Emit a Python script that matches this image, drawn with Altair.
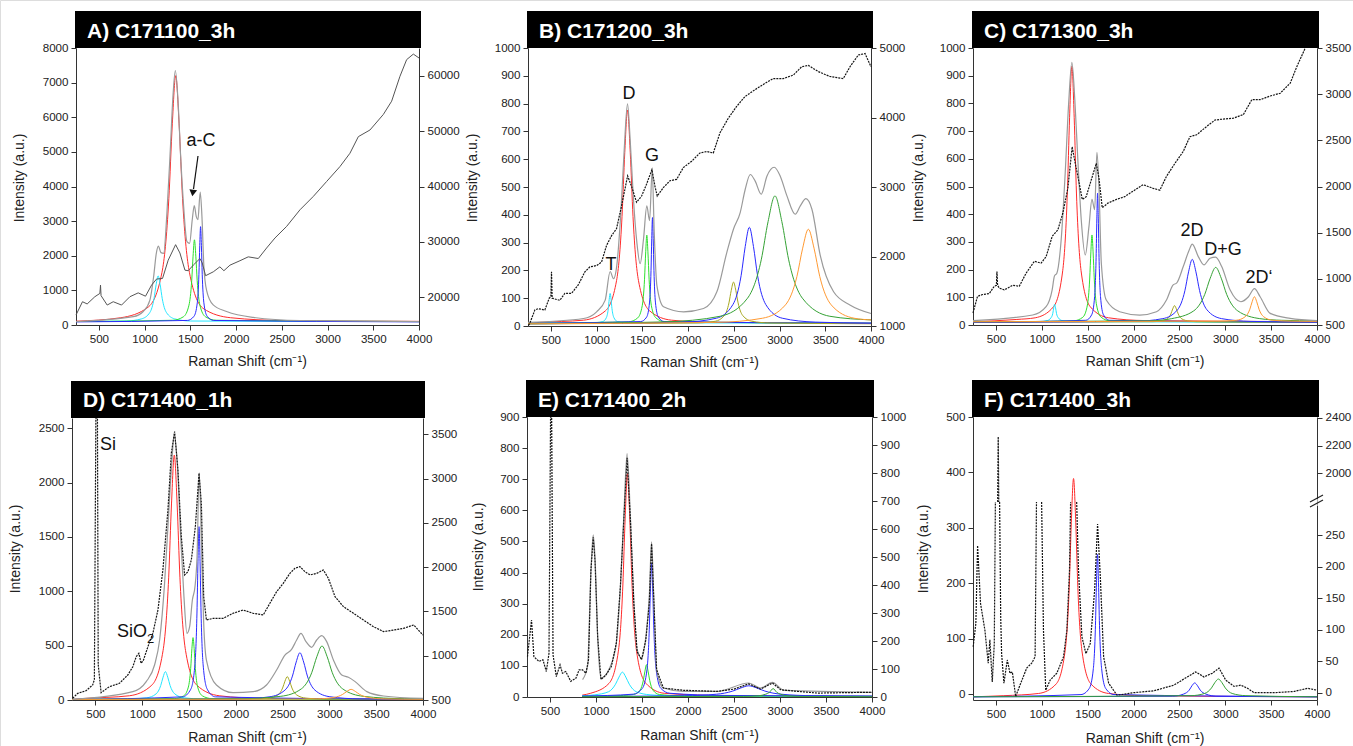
import altair as alt
import pandas as pd

W, H = 1353, 746
FONT = "Liberation Sans"

X_TICKS = [500, 1000, 1500, 2000, 2500, 3000, 3500, 4000]

# ---------------- Panel A: C171100_3h ----------------
A_LTICKS = [0, 1000, 2000, 3000, 4000, 5000, 6000, 7000, 8000]
A_RTICKS = [20000, 30000, 40000, 50000, 60000]
A_RAW = [(250, 16800), (321, 19200), (372, 18800), (456, 20100), (511, 20700), (518, 22200), (524, 20300),
         (591, 18600), (657, 19200), (748, 18600), (839, 20100), (930, 20800), (1010, 20200), (1076, 22200),
         (1131, 23300), (1196, 23400), (1258, 26700), (1339, 29500), (1386, 28000), (1441, 24900),
         (1477, 24800), (1532, 25800), (1605, 27000), (1630, 26200), (1667, 23900), (1751, 24600),
         (1823, 25500), (1867, 24800), (1933, 25800), (2042, 26600), (2133, 27300), (2243, 27000),
         (2334, 28900), (2425, 30700), (2553, 32800), (2699, 35800), (2844, 38200), (2990, 40900),
         (3136, 43600), (3245, 46000), (3337, 49000), (3464, 50200), (3610, 53000), (3701, 55400),
         (3792, 59900), (3865, 62900), (3938, 63900), (4000, 63200)]
A_SUM = [(250, 100), (876, 240), (985, 390), (1058, 720), (1099, 1400), (1128, 2070), (1150, 2280),
         (1179, 2090), (1208, 2070), (1244, 3230), (1281, 5060), (1310, 6600), (1336, 7350), (1365, 6500),
         (1394, 4870), (1427, 3420), (1463, 2410), (1492, 2360), (1521, 3040), (1543, 3450), (1565, 3130),
         (1583, 3040), (1608, 3840), (1627, 3130), (1648, 1690), (1677, 1010), (1750, 580), (1896, 390),
         (2188, 220), (2698, 130), (4000, 100)]
A_RED = [(250, 110), (740, 210), (1040, 518), (1190, 1520), (1265, 3650), (1303, 5812), (1340, 7200),
         (1377, 5812), (1415, 3650), (1490, 1520), (1640, 480), (1940, 210), (2540, 127), (4000, 105)]
A_CYAN = [(250, 100), (800, 115), (968, 178), (1058, 364), (1103, 760), (1126, 1165), (1148, 1420),
          (1170, 1165), (1193, 760), (1238, 364), (1328, 178), (1500, 115), (4000, 100)]
A_GREEN = [(250, 100), (1305, 136), (1425, 239), (1485, 572), (1515, 1280), (1530, 1988), (1545, 2460),
           (1560, 1988), (1575, 1280), (1605, 572), (1665, 239), (1785, 136), (4000, 100)]
A_BLUE = [(250, 90), (1468, 132), (1540, 252), (1576, 640), (1594, 1465), (1603, 2290), (1612, 2840),
          (1621, 2290), (1630, 1465), (1648, 640), (1684, 252), (1756, 132), (4000, 90)]

# ---------------- Panel B: C171200_3h ----------------
B_LTICKS = [0, 100, 200, 300, 400, 500, 600, 700, 800, 900, 1000]
B_RTICKS = [1000, 2000, 3000, 4000, 5000]
B_RAW = [(255, 1010), (270, 1040), (325, 1230), (361, 1250), (434, 1230), (482, 1400), (500, 1420),
         (507, 1780), (514, 1400), (540, 1390), (598, 1370), (653, 1470), (726, 1470), (799, 1590),
         (872, 1780), (927, 1850), (1000, 1870), (1054, 1920), (1109, 2160), (1164, 2300), (1218, 2400),
         (1273, 2730), (1339, 3160), (1382, 3010), (1437, 2780), (1492, 2870), (1546, 3040), (1605, 3250),
         (1638, 3010), (1663, 2870), (1729, 2990), (1802, 3090), (1875, 3110), (1948, 3280), (2039, 3370),
         (2130, 3490), (2203, 3510), (2276, 3490), (2349, 3780), (2440, 3990), (2531, 4160), (2622, 4300),
         (2731, 4400), (2840, 4490), (2932, 4560), (3041, 4560), (3151, 4610), (3242, 4730), (3315, 4750),
         (3424, 4660), (3552, 4590), (3697, 4560), (3770, 4730), (3862, 4900), (3935, 4920), (4000, 4730)]
B_SUM = [(250, 13), (857, 27), (1000, 51), (1094, 93), (1148, 196), (1185, 170), (1221, 218), (1265, 408),
         (1302, 635), (1338, 799), (1367, 670), (1403, 456), (1440, 301), (1476, 224), (1513, 313),
         (1549, 432), (1579, 379), (1608, 563), (1630, 337), (1659, 146), (1732, 69), (1951, 51),
         (2169, 63), (2315, 123), (2424, 265), (2497, 349), (2570, 408), (2625, 492), (2680, 545),
         (2734, 521), (2800, 474), (2862, 539), (2942, 571), (3008, 539), (3081, 468), (3172, 402),
         (3227, 432), (3289, 458), (3354, 420), (3445, 254), (3591, 123), (3774, 75), (4000, 45)]
B_RED = [(250, 10), (378, 13), (858, 21), (1098, 55), (1218, 163), (1278, 394), (1308, 624), (1338, 777),
         (1368, 624), (1398, 394), (1458, 163), (1578, 55), (1818, 21), (2298, 13), (4000, 10)]
B_CYAN = [(250, 10), (988, 12), (1068, 16), (1108, 31), (1128, 63), (1138, 96), (1148, 117), (1158, 96),
          (1168, 63), (1188, 31), (1228, 16), (1308, 12), (4000, 10)]
B_GREEN = [(250, 10), (1349, 15), (1449, 29), (1499, 73), (1524, 168), (1537, 267), (1549, 327),
           (1561, 267), (1574, 168), (1599, 73), (1649, 29), (1749, 15), (4000, 10)]
B_BLUE = [(250, 10), (1483, 16), (1547, 32), (1579, 86), (1595, 200), (1603, 314), (1611, 390),
          (1619, 314), (1627, 200), (1643, 86), (1675, 32), (1739, 16), (4000, 10)]
B_OLIVE = [(250, 8), (2097, 11), (2297, 17), (2397, 38), (2447, 83), (2472, 128), (2497, 158),
           (2522, 128), (2547, 83), (2597, 38), (2697, 17), (2897, 11), (4000, 8)]
B_BLUE2 = [(250, 8), (1950, 14), (2310, 28), (2490, 77), (2580, 181), (2625, 286), (2670, 355),
           (2715, 286), (2760, 181), (2850, 77), (3030, 28), (3390, 14), (4000, 10)]
B_GREEN2 = [(250, 8), (1750, 15), (2350, 35), (2650, 100), (2800, 238), (2875, 376), (2950, 468),
            (3025, 376), (3100, 238), (3250, 100), (3550, 35), (4000, 22)]
B_ORANGE = [(250, 8), (2315, 13), (2815, 28), (3065, 76), (3190, 178), (3253, 280), (3315, 348),
            (3377, 280), (3440, 178), (3565, 76), (3815, 28), (4000, 22)]

# ---------------- Panel C: C171300_3h ----------------
C_LTICKS = [0, 100, 200, 300, 400, 500, 600, 700, 800, 900, 1000]
C_RTICKS = [500, 1000, 1500, 2000, 2500, 3000, 3500]
C_RAW = [(250, 630), (299, 810), (354, 830), (427, 840), (482, 920), (505, 930), (511, 1080), (518, 930),
         (536, 900), (591, 880), (682, 930), (755, 920), (828, 1060), (919, 1190), (992, 1170),
         (1047, 1240), (1113, 1460), (1175, 1530), (1229, 1710), (1284, 1980), (1331, 2430), (1357, 2290),
         (1393, 2110), (1441, 1860), (1484, 1890), (1539, 2070), (1594, 2250), (1623, 2090), (1659, 1770),
         (1721, 1820), (1813, 1860), (1904, 1890), (1995, 1950), (2104, 2020), (2214, 1980), (2287, 1960),
         (2359, 2110), (2451, 2250), (2542, 2380), (2615, 2540), (2688, 2560), (2797, 2650), (2888, 2720),
         (2979, 2730), (3089, 2740), (3198, 2780), (3289, 2940), (3380, 2940), (3490, 2980), (3599, 3010),
         (3708, 3120), (3781, 3300), (3872, 3500)]
C_SUM = [(250, 16), (901, 36), (1047, 66), (1113, 127), (1138, 177), (1164, 187), (1211, 307), (1255, 548),
         (1295, 813), (1328, 948), (1360, 813), (1393, 596), (1430, 380), (1474, 253), (1514, 355),
         (1547, 454), (1576, 416), (1601, 623), (1623, 500), (1649, 223), (1703, 90), (1849, 48),
         (2068, 36), (2250, 48), (2359, 90), (2432, 145), (2469, 151), (2542, 211), (2607, 271),
         (2640, 292), (2706, 247), (2768, 217), (2834, 241), (2895, 245), (2961, 211), (3052, 127),
         (3169, 84), (3253, 102), (3318, 131), (3380, 102), (3490, 42), (3708, 24), (4000, 16)]
C_RED = [(250, 12), (728, 20), (928, 26), (1128, 66), (1228, 196), (1278, 473), (1303, 750), (1328, 934),
         (1353, 750), (1378, 473), (1428, 196), (1528, 66), (1728, 26), (2128, 16), (4000, 12)]
C_CYAN = [(250, 10), (980, 12), (1060, 16), (1100, 26), (1120, 42), (1130, 62), (1140, 75), (1150, 62),
          (1160, 42), (1180, 26), (1220, 16), (1300, 12), (4000, 10)]
C_GREEN = [(250, 10), (1347, 15), (1447, 28), (1497, 72), (1522, 166), (1535, 264), (1547, 325),
           (1559, 264), (1572, 166), (1597, 72), (1647, 28), (1747, 15), (4000, 10)]
C_BLUE = [(250, 10), (1480, 17), (1544, 37), (1576, 103), (1592, 243), (1600, 383), (1608, 476),
          (1616, 383), (1624, 243), (1640, 103), (1672, 37), (1736, 17), (4000, 10)]
C_OLIVE = [(250, 10), (2207, 12), (2287, 14), (2367, 22), (2407, 40), (2427, 58), (2447, 70),
           (2467, 58), (2487, 40), (2527, 22), (2607, 14), (2687, 12), (4000, 10)]
C_BLUE2 = [(250, 10), (2000, 13), (2320, 23), (2480, 55), (2560, 124), (2600, 192), (2640, 237),
           (2680, 192), (2720, 124), (2800, 55), (2960, 23), (3280, 13), (4000, 10)]
C_GREEN2 = [(250, 12), (2176, 15), (2416, 23), (2656, 51), (2776, 110), (2836, 169), (2896, 208),
            (2956, 169), (3016, 110), (3136, 51), (3376, 23), (3616, 17), (4000, 15)]
C_ORANGE = [(250, 12), (2918, 14), (3118, 17), (3218, 30), (3268, 57), (3293, 84), (3318, 102),
            (3343, 84), (3368, 57), (3418, 30), (3518, 17), (3718, 14), (4000, 13)]

# ---------------- Panel D: C171400_1h ----------------
D_LTICKS = [0, 500, 1000, 1500, 2000, 2500]
D_RTICKS = [500, 1000, 1500, 2000, 2500, 3000, 3500]
D_RAW = [(257, 520), (311, 575), (400, 605), (471, 670), (489, 730), (505, 3684), (522, 3684), (530, 900),
         (561, 583), (650, 651), (757, 688), (846, 782), (900, 876), (936, 989), (964, 1027), (989, 914),
         (1014, 952), (1061, 1102), (1114, 1253), (1168, 1516), (1221, 1968), (1275, 2645), (1311, 3285),
         (1346, 3530), (1382, 3097), (1418, 2344), (1453, 1912), (1489, 1949), (1525, 2081), (1568, 2457),
         (1607, 3060), (1632, 2721), (1657, 1667), (1686, 1403), (1757, 1422), (1864, 1422), (1971, 1479),
         (2078, 1516), (2186, 1479), (2293, 1460), (2364, 1592), (2436, 1723), (2507, 1817), (2578, 1930),
         (2632, 1987), (2685, 2006), (2739, 1949), (2793, 1912), (2864, 1930), (2935, 1968), (2989, 1874),
         (3060, 1667), (3150, 1554), (3257, 1479), (3364, 1403), (3471, 1328), (3578, 1272), (3685, 1290),
         (3792, 1309), (3900, 1347), (4000, 1234)]
D_SUM = [(257, 6), (900, 77), (1043, 169), (1132, 322), (1186, 552), (1239, 1073), (1275, 1595),
         (1311, 2116), (1343, 2438), (1375, 2178), (1411, 1503), (1446, 951), (1478, 613), (1507, 675),
         (1536, 920), (1564, 1043), (1586, 1319), (1609, 2090), (1636, 1319), (1657, 705), (1686, 368),
         (1793, 138), (1971, 67), (2186, 77), (2328, 138), (2436, 276), (2525, 414), (2596, 466),
         (2650, 552), (2696, 613), (2750, 537), (2810, 485), (2864, 552), (2918, 592), (2971, 537),
         (3043, 368), (3132, 230), (3203, 209), (3275, 169), (3400, 77), (3578, 37), (4000, 15)]
D_RED = [(250, 5), (383, 14), (863, 39), (1103, 137), (1223, 455), (1283, 1130), (1313, 1804), (1343, 2254),
         (1373, 1804), (1403, 1130), (1463, 455), (1583, 137), (1823, 39), (2303, 14), (4000, 6)]
D_CYAN = [(250, 5), (848, 9), (1048, 20), (1148, 56), (1198, 133), (1223, 210), (1248, 261), (1273, 210),
          (1298, 133), (1348, 56), (1448, 20), (1648, 9), (4000, 5)]
D_GREEN = [(250, 5), (1343, 13), (1443, 38), (1493, 119), (1518, 290), (1531, 472), (1543, 574),
           (1555, 472), (1568, 290), (1593, 119), (1643, 38), (1743, 13), (4000, 5)]
D_BLUE = [(250, 5), (1431, 29), (1519, 99), (1563, 323), (1585, 800), (1596, 1277), (1607, 1595),
          (1618, 1277), (1629, 800), (1651, 323), (1695, 99), (1783, 29), (4000, 5)]
D_OLIVE = [(250, 5), (2150, 8), (2350, 17), (2450, 47), (2500, 110), (2525, 173), (2550, 215),
           (2575, 173), (2600, 110), (2650, 47), (2750, 17), (2950, 8), (4000, 5)]
D_BLUE2 = [(250, 5), (2045, 10), (2365, 30), (2525, 91), (2605, 220), (2645, 349), (2685, 435),
           (2725, 349), (2765, 220), (2845, 91), (3005, 30), (3325, 10), (4000, 6)]
D_GREEN2 = [(250, 5), (2041, 11), (2481, 34), (2701, 103), (2811, 251), (2866, 399), (2921, 497),
            (2976, 399), (3031, 251), (3141, 103), (3361, 34), (3801, 11), (4000, 9)]
D_ORANGE = [(250, 5), (2700, 8), (2872, 10), (3052, 24), (3142, 52), (3187, 79), (3232, 98),
            (3277, 79), (3322, 52), (3412, 24), (3592, 10), (4000, 6)]

# ---------------- Panel E: C171400_2h ----------------
E_LTICKS = [0, 100, 200, 300, 400, 500, 600, 700, 800, 900]
E_RTICKS = [0, 100, 200, 300, 400, 500, 600, 700, 800, 900, 1000]
E_RAW = [(255, 144), (299, 275), (325, 144), (380, 127), (423, 133), (460, 91), (489, 156), (506, 1000),
         (518, 1000), (533, 150), (569, 73), (609, 115), (635, 85), (671, 91), (726, 56), (781, 67),
         (817, 97), (854, 97), (890, 85), (919, 133), (945, 452), (970, 570), (989, 488), (1018, 215),
         (1054, 62), (1109, 79), (1167, 109), (1221, 192), (1265, 393), (1302, 630), (1338, 854),
         (1374, 630), (1411, 334), (1447, 162), (1495, 133), (1542, 204), (1579, 334), (1604, 547),
         (1630, 334), (1659, 97), (1732, 32), (1950, 24), (2315, 20), (2497, 28), (2661, 47), (2789, 28),
         (2917, 50), (3008, 26), (3190, 20), (3409, 14), (4000, 17)]
E_SUM = [(854, 56), (908, 98), (945, 408), (970, 521), (992, 430), (1018, 195), (1054, 61), (1148, 93),
         (1221, 173), (1265, 355), (1302, 579), (1338, 782), (1374, 579), (1411, 312), (1447, 152),
         (1495, 125), (1542, 195), (1579, 323), (1604, 499), (1630, 301), (1659, 88), (1732, 29),
         (1950, 18), (2315, 18), (2661, 45), (2789, 29), (2917, 47), (3044, 21), (4000, 15)]
E_RED = [(850, 6), (942, 12), (1142, 44), (1242, 145), (1292, 360), (1317, 575), (1342, 718), (1367, 575),
         (1392, 360), (1442, 145), (1542, 44), (1742, 12), (2300, 5), (4000, 2)]
E_CYAN = [(850, 4), (987, 7), (1137, 17), (1212, 41), (1250, 64), (1287, 80), (1324, 64), (1362, 41),
          (1437, 17), (1587, 7), (1900, 3), (4000, 2)]
E_GREEN = [(850, 2), (1300, 5), (1409, 8), (1479, 22), (1514, 53), (1532, 83), (1549, 104), (1566, 83),
           (1584, 53), (1619, 22), (1689, 8), (1900, 4), (4000, 2)]
E_BLUE = [(850, 3), (1404, 9), (1504, 28), (1554, 88), (1579, 216), (1592, 350), (1604, 430), (1616, 350),
          (1629, 216), (1654, 88), (1704, 28), (1804, 12), (2400, 5), (4000, 3)]
E_BLUE2 = [(850, 2), (1961, 4), (2311, 9), (2486, 19), (2574, 29), (2661, 36), (2748, 29), (2836, 19),
           (3011, 9), (3361, 4), (4000, 2)]
E_GREEN2 = [(850, 1), (2605, 2), (2765, 4), (2845, 9), (2885, 15), (2925, 27), (2965, 15), (3005, 9),
            (3085, 4), (3245, 2), (4000, 1)]

# ---------------- Panel F: C171400_3h (broken right axis) ----------------
F_LTICKS = [0, 100, 200, 300, 400, 500]
F_RTICKS = [0, 50, 100, 150, 200, 250, 2000, 2200, 2400]
F_RAW = [
    [(252, 73), (281, 110), (300, 234), (332, 142), (380, 99), (416, 47), (434, 84), (460, 17), (482, 78),
     (494, 303)],
    [(519, 1793), (525, 2264), (531, 1793)],
    [(540, 303), (552, 120), (562, 62), (587, 15), (624, 52), (653, 31), (679, 33), (715, -6), (762, 12),
     (835, 39), (890, 47), (927, 57), (942, 303)],
    [(998, 303), (1018, 100), (1043, 4), (1091, 20), (1164, 31), (1237, 57), (1273, 99), (1302, 195),
     (1314, 303)],
    [(1380, 303), (1400, 195), (1437, 89), (1481, 62), (1528, 78), (1576, 163), (1608, 268), (1638, 184),
     (1674, 57), (1729, 15), (1820, -4), (2002, 0), (2221, 3), (2440, 12), (2585, 25), (2677, 33),
     (2768, 25), (2859, 31), (2932, 39), (3005, 20), (3096, 10), (3169, 12), (3242, 7), (3315, 0),
     (3533, 0), (3752, 2), (3898, 7), (4000, 4)],
]
F_RED = [(250, -5), (586, -3), (966, 1), (1156, 18), (1251, 74), (1299, 192), (1322, 310), (1346, 389),
         (1370, 310), (1393, 192), (1441, 74), (1536, 18), (1726, 1), (2106, -3), (4000, -5)]
F_BLUE = [(250, -5), (1427, -1), (1517, 10), (1562, 46), (1585, 124), (1596, 201), (1607, 252), (1618, 201),
          (1629, 124), (1652, 46), (1697, 10), (1787, -1), (4000, -5)]
F_BLUE2 = [(250, -5), (2427, -4), (2547, 0), (2607, 7), (2637, 15), (2667, 20), (2697, 15), (2727, 7),
           (2787, 0), (2907, -4), (4000, -5)]
F_GREEN2 = [(250, -5), (2625, -3), (2775, 1), (2850, 11), (2888, 21), (2925, 27), (2962, 21), (3000, 11),
            (3075, 1), (3225, -3), (4000, -5)]

# ---------------- colours ----------------
RED, CYAN, LIME, BLUE = "#ff2b2b", "#22e6ff", "#2ee02e", "#2a2aff"
OLIVE, DGREEN, ORANGE = "#a8a820", "#35a235", "#ff9a33"
GRAY, RAWC = "#9a9a9a", "#151515"

PANELS = [
    dict(title="A) C171100_3h", x0=76, x1=419, yb=325, yt=48, ldom=[0, 8000], lt=A_LTICKS,
         rdom=[15000, 65000], rt=A_RTICKS, raw=[A_RAW], rawsolid=True, sum=A_SUM,
         comps=[("red", RED, A_RED), ("cyan", CYAN, A_CYAN), ("green", LIME, A_GREEN), ("blue", BLUE, A_BLUE)],
         yt_pos=(20, 178), xt_y=362, ty=38),
    dict(title="B) C171200_3h", x0=528, x1=871, yb=326, yt=48, ldom=[0, 1000], lt=B_LTICKS,
         rdom=[1000, 5000], rt=B_RTICKS, raw=[B_RAW], rawsolid=False, sum=B_SUM,
         comps=[("red", RED, B_RED), ("cyan", CYAN, B_CYAN), ("green", LIME, B_GREEN), ("blue", BLUE, B_BLUE),
                ("olive", OLIVE, B_OLIVE), ("blue2", BLUE, B_BLUE2), ("green2", DGREEN, B_GREEN2),
                ("orange", ORANGE, B_ORANGE)],
         yt_pos=(473, 178), xt_y=363, ty=38),
    dict(title="C) C171300_3h", x0=973, x1=1317, yb=325, yt=48, ldom=[0, 1000], lt=C_LTICKS,
         rdom=[500, 3500], rt=C_RTICKS, raw=[C_RAW], rawsolid=False, sum=C_SUM,
         comps=[("red", RED, C_RED), ("cyan", CYAN, C_CYAN), ("green", LIME, C_GREEN), ("blue", BLUE, C_BLUE),
                ("olive", OLIVE, C_OLIVE), ("blue2", BLUE, C_BLUE2), ("green2", DGREEN, C_GREEN2),
                ("orange", ORANGE, C_ORANGE)],
         yt_pos=(919, 178), xt_y=362, ty=38),
    dict(title="D) C171400_1h", x0=72, x1=423, yb=700, yt=418, ldom=[0, 2595], lt=D_LTICKS,
         rdom=[500, 3684], rt=D_RTICKS, raw=[D_RAW], rawsolid=False, sum=D_SUM,
         comps=[("red", RED, D_RED), ("cyan", CYAN, D_CYAN), ("green", LIME, D_GREEN), ("blue", BLUE, D_BLUE),
                ("olive", OLIVE, D_OLIVE), ("blue2", BLUE, D_BLUE2), ("green2", DGREEN, D_GREEN2),
                ("orange", ORANGE, D_ORANGE)],
         yt_pos=(16, 549), xt_y=738, ty=406.5),
    dict(title="E) C171400_2h", x0=527, x1=872, yb=697, yt=417, ldom=[0, 900], lt=E_LTICKS,
         rdom=[0, 1000], rt=E_RTICKS, raw=[E_RAW], rawsolid=False, sum=E_SUM,
         comps=[("red", RED, E_RED), ("cyan", CYAN, E_CYAN), ("green", LIME, E_GREEN), ("blue", BLUE, E_BLUE),
                ("blue2", BLUE, E_BLUE2), ("green2", DGREEN, E_GREEN2)],
         yt_pos=(479, 547), xt_y=736, ty=406.5),
    dict(title="F) C171400_3h", x0=973, x1=1317, yb=700, yt=417, ldom=[-10.8, 500], lt=F_LTICKS,
         rdom=[-11.6, 303, 1793, 2407], rrange=[700, 502, 502, 417], rt=F_RTICKS, raw=F_RAW,
         rawsolid=False, sum=None,
         comps=[("red", RED, F_RED), ("blue", BLUE, F_BLUE), ("blue2", BLUE, F_BLUE2),
                ("green2", DGREEN, F_GREEN2)],
         yt_pos=(924, 549), xt_y=739, ty=406.5),
]


def series_df(series):
    rows = []
    for name, color, pts in series:
        for x, y in pts:
            rows.append({"x": x, "y": y, "s": name, "c": color})
    return pd.DataFrame(rows)


layers = []
bars, titles, ytitles, xtitles = [], [], [], []
for i, p in enumerate(PANELS):
    xs = alt.Scale(domain=[250, 4000], range=[p["x0"], p["x1"]], nice=False, zero=False)
    yl = alt.Scale(domain=p["ldom"], range=[p["yb"], p["yt"]], nice=False, zero=False)
    yr = alt.Scale(domain=p["rdom"], range=p.get("rrange", [p["yb"], p["yt"]]), nice=False, zero=False)
    xaxis = alt.Axis(orient="bottom", offset=p["yb"] - H, values=X_TICKS, format="d", title=None)
    laxis = alt.Axis(orient="left", offset=-p["x0"], values=p["lt"], format="d", title=None)
    raxis = alt.Axis(orient="right", offset=p["x1"] - W, values=p["rt"], format="d", title=None)

    comp = alt.Chart(series_df(p["comps"])).mark_line(interpolate="monotone", strokeWidth=1).encode(
        x=alt.X("x:Q", scale=xs, axis=xaxis),
        y=alt.Y("y:Q", scale=yl, axis=laxis),
        color=alt.Color("c:N", scale=None),
        detail="s:N",
    )
    layers.append(comp)

    if p["sum"] is not None:
        sm = alt.Chart(series_df([("sum", GRAY, p["sum"])])).mark_line(
            interpolate="monotone", strokeWidth=1.2, color=GRAY).encode(
            x=alt.X("x:Q", scale=xs, axis=None),
            y=alt.Y("y:Q", scale=yl, axis=None),
        )
        layers.append(sm)

    rawdf = series_df([("seg%d" % k, RAWC, seg) for k, seg in enumerate(p["raw"])])
    if p["rawsolid"]:
        rawmark = alt.Chart(rawdf).mark_line(strokeWidth=1, color="#555555")
    else:
        rawmark = alt.Chart(rawdf).mark_line(strokeWidth=1.2, color=RAWC, strokeDash=[2, 1])
    rw = rawmark.encode(
        x=alt.X("x:Q", scale=xs, axis=None),
        y=alt.Y("y:Q", scale=yr, axis=raxis),
        detail="s:N",
    )
    layers.append(rw)

    bars.append({"bx0": p["x0"] - 1, "bx1": p["x1"] + 2, "by0": p["yt"] - 37, "by1": p["yt"]})
    titles.append({"px": p["x0"] + 11, "py": p["ty"], "t": p["title"]})
    ytitles.append({"px": p["yt_pos"][0], "py": p["yt_pos"][1], "t": "Intensity (a.u.)"})
    xtitles.append({"px": (p["x0"] + p["x1"]) / 2, "py": p["xt_y"], "t": "Raman Shift (cm⁻¹)"})


def px(field):
    return alt.X(field, scale=None, axis=None)


def py(field):
    return alt.Y(field, scale=None, axis=None)


layers.append(alt.Chart(pd.DataFrame(bars)).mark_rect(color="black").encode(
    x=px("bx0:Q"), x2="bx1:Q", y=py("by0:Q"), y2="by1:Q"))
layers.append(alt.Chart(pd.DataFrame(titles)).mark_text(
    font=FONT, fontSize=21, fontWeight="bold", color="white", align="left", baseline="alphabetic").encode(
    x=px("px:Q"), y=py("py:Q"), text="t:N"))
layers.append(alt.Chart(pd.DataFrame(ytitles)).mark_text(
    font=FONT, fontSize=14, color="#222", angle=270, align="center", baseline="middle").encode(
    x=px("px:Q"), y=py("py:Q"), text="t:N"))
layers.append(alt.Chart(pd.DataFrame(xtitles)).mark_text(
    font=FONT, fontSize=14, color="#222", align="center", baseline="middle").encode(
    x=px("px:Q"), y=py("py:Q"), text="t:N"))

# peak annotations
ANNOT = [{"px": 201, "py": 146, "t": "a-C"}, {"px": 629, "py": 99, "t": "D"}, {"px": 652, "py": 161, "t": "G"},
         {"px": 611, "py": 270, "t": "T"}, {"px": 1192, "py": 236, "t": "2D"},
         {"px": 1223, "py": 255, "t": "D+G"}, {"px": 1259, "py": 283, "t": "2D‘"},
         {"px": 108, "py": 450, "t": "Si"}]
layers.append(alt.Chart(pd.DataFrame(ANNOT)).mark_text(
    font=FONT, fontSize=18, color="#111", align="center", baseline="alphabetic").encode(
    x=px("px:Q"), y=py("py:Q"), text="t:N"))
layers.append(alt.Chart(pd.DataFrame([{"px": 117, "py": 637, "t": "SiO"}])).mark_text(
    font=FONT, fontSize=18, color="#111", align="left", baseline="alphabetic").encode(
    x=px("px:Q"), y=py("py:Q"), text="t:N"))
layers.append(alt.Chart(pd.DataFrame([{"px": 147, "py": 643, "t": "2"}])).mark_text(
    font=FONT, fontSize=13, color="#111", align="left", baseline="alphabetic").encode(
    x=px("px:Q"), y=py("py:Q"), text="t:N"))

# arrow (panel A) and axis-break marks (panel F)
RULES = [{"a": 198, "b": 156, "c": 193.5, "d": 189, "w": "#111"},
         {"a": 1317, "b": 499, "c": 1317, "d": 506, "w": "white"},
         {"a": 1310, "b": 502, "c": 1323, "d": 495, "w": "#222"},
         {"a": 1310, "b": 507, "c": 1323, "d": 500, "w": "#222"}]
layers.append(alt.Chart(pd.DataFrame(RULES)).mark_rule(strokeWidth=1.2).encode(
    x=px("a:Q"), y=py("b:Q"), x2="c:Q", y2="d:Q", color=alt.Color("w:N", scale=None)))
layers.append(alt.Chart(pd.DataFrame([{"px": 192.8, "py": 193}])).mark_point(
    shape="triangle-down", filled=True, size=60, color="#111", opacity=1, angle=8).encode(
    x=px("px:Q"), y=py("py:Q")))

chart = alt.layer(*layers).resolve_scale(
    x="independent", y="independent", color="independent"
).properties(
    width=W, height=H, autosize=alt.AutoSizeParams(type="none"), padding=0
).configure_view(stroke=None).configure(font=FONT).configure_axis(
    grid=False, domainColor="#333", tickColor="#333", labelColor="#222", labelFont=FONT,
    labelFontSize=11.6, tickSize=5, labelPadding=3, labelFlush=False, labelOverlap=False,
    domainWidth=1, tickWidth=1
)

chart.save("out.html", embed_options={"renderer": "svg", "actions": False})
